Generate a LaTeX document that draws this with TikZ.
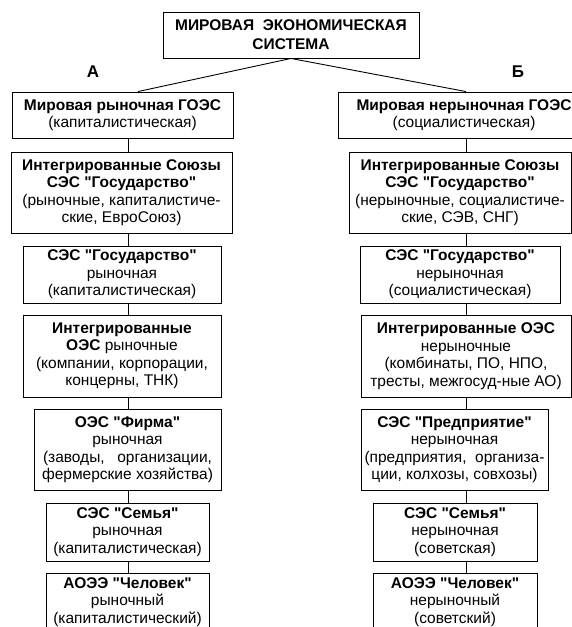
\documentclass[tikz,border=0pt]{standalone}
\usepackage{fontspec}
\setmainfont{Liberation Sans}
\usetikzlibrary{calc}
\tikzstyle{sysbox}=[draw,line width=0.9pt,inner sep=0pt,align=center,font=\fontsize{15.5}{17.5}\selectfont]
\tikzstyle{link}=[line width=0.9pt]
\tikzstyle{branch}=[font=\bfseries\fontsize{17}{17}\selectfont]
\newcommand{\q}[1]{\textquotedbl#1\textquotedbl} % straight quotes
\newcommand{\drawsystem}[6]{% Syntax: {name}{left}{top}{right}{bottom}{text}, in pixels
\pgfmathsetmacro{\bw}{#4-#2}
\pgfmathsetmacro{\bh}{#5-#3}
\node[sysbox,minimum width=\bw pt,minimum height=\bh pt] (#1) at ({(#2+#4)/2},{(#3+#5)/2}) {#6};
}

\begin{document}
\begin{tikzpicture}[x=1pt,y=-1pt]
	\useasboundingbox (0,0) rectangle (572,627);
	\clip (0,0) rectangle (572,627);
	\coordinate (colA) at (128,0); % left connectors
	\coordinate (colB) at (466,0); % right connectors
	\coordinate (joinA) at (138,0);
	\drawsystem{world}{163}{12}{419}{58}{\textbf{МИРОВАЯ\ \ ЭКОНОМИЧЕСКАЯ}\\[1.5pt]\textbf{СИСТЕМА}}
	\node[branch] (labA) at (93,72) {А};
	\node[branch] (labB) at (518,72) {Б};
	% market branch
	\drawsystem{l1}{12}{92}{233}{138}{\textbf{Мировая рыночная ГОЭС}\\(капиталистическая)}
	\drawsystem{l2}{11}{152}{232}{233}{\textbf{Интегрированные Союзы}\\\textbf{СЭС \q{Государство}}\\(рыночные, капиталистиче-\\ские, ЕвроСоюз)}
	\drawsystem{l3}{23}{246}{221}{303}{\textbf{СЭС \q{Государство}}\\рыночная\\(капиталистическая)}
	\drawsystem{l4}{23}{315}{221}{397}{\textbf{Интегрированные}\\\textbf{ОЭС} рыночные\\(компании, корпорации,\\концерны, ТНК)}
	\drawsystem{l5}{34}{409}{221}{490}{\textbf{ОЭС \q{Фирма}}\\рыночная\\\makebox[169pt][s]{(заводы, организации,}\\фермерские хозяйства)}
	\drawsystem{l6}{46}{503}{209}{561}{\textbf{СЭС \q{Семья}}\\рыночная\\(капиталистическая)}
	\drawsystem{l7}{46}{573}{209}{631}{\textbf{АОЭЭ \q{Человек}}\\рыночный\\(капиталистический)}
	% non-market branch
	\drawsystem{r1}{338}{92}{590}{138}{\textbf{Мировая нерыночная ГОЭС}\\(социалистическая)}
	\drawsystem{r2}{349}{152}{571}{233}{\textbf{Интегрированные Союзы}\\\textbf{СЭС \q{Государство}}\\(нерыночные, социалистиче-\\ские, СЭВ, СНГ)}
	\drawsystem{r3}{360}{246}{560}{303}{\textbf{СЭС \q{Государство}}\\нерыночная\\(социалистическая)}
	\drawsystem{r4}{361}{315}{571}{397}{\textbf{Интегрированные ОЭС}\\нерыночные\\(комбинаты, ПО, НПО,\\тресты, межгосуд-ные АО)}
	\drawsystem{r5}{361}{409}{548}{490}{\textbf{СЭС \q{Предприятие}}\\нерыночная\\(предприятия,\ \ организа-\\ции, колхозы, совхозы)}
	\drawsystem{r6}{373}{503}{537}{561}{\textbf{СЭС \q{Семья}}\\нерыночная\\(советская)}
	\drawsystem{r7}{373}{573}{537}{631}{\textbf{АОЭЭ \q{Человек}}\\нерыночный\\(советский)}
	\draw[link] (world.south) -- (l1.north -| joinA);
	\draw[link] (world.south) -- (r1.north -| colB);
	\foreach \a/\b in {l1/l2,l2/l3,l3/l4,l4/l5,l5/l6,l6/l7} {
		\draw[link] (\a.south -| colA) -- (\b.north -| colA);
	}
	\foreach \a/\b in {r1/r2,r2/r3,r3/r4,r4/r5,r5/r6,r6/r7} {
		\draw[link] (\a.south -| colB) -- (\b.north -| colB);
	}
\end{tikzpicture}
\end{document}
